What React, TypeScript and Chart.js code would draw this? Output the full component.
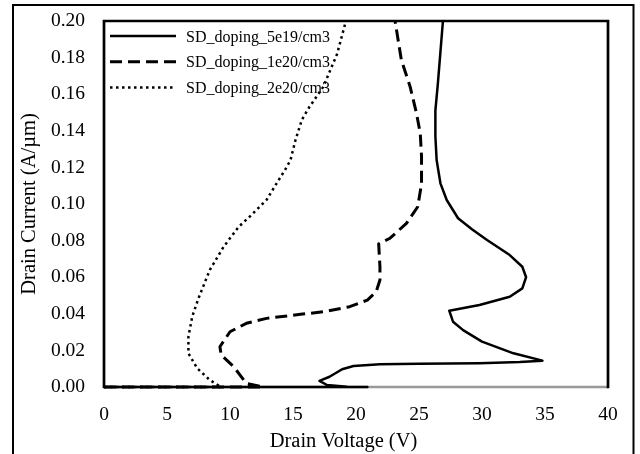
import React, { useEffect, useRef } from "react";
import { Chart, registerables } from "chart.js";

Chart.register(...registerables);

// ---- data ----
const seriesLabels = ["SD_doping_5e19/cm3", "SD_doping_1e20/cm3", "SD_doping_2e20/cm3"];

const volt5e19 = [0, 20.9, 19.3, 17.7, 17.1, 17.9, 18.9, 19.8, 21.9, 25.0, 29.8, 33.0, 34.8, 32.5, 30.0, 28.5, 27.7, 27.4, 29.8, 32.2, 33.2, 33.5, 33.2, 32.2, 30.4, 29.2, 28.1, 27.2, 26.7, 26.4, 26.3, 26.3, 26.5, 26.7, 26.9];
const curr5e19 = [0, 0, 0.0002, 0.0011, 0.0033, 0.0056, 0.0097, 0.0115, 0.0124, 0.0127, 0.013, 0.0136, 0.0144, 0.0184, 0.0248, 0.0311, 0.0357, 0.0417, 0.0448, 0.0493, 0.0539, 0.06, 0.0657, 0.0721, 0.0803, 0.0862, 0.0922, 0.1022, 0.1113, 0.124, 0.137, 0.151, 0.166, 0.183, 0.2];

const volt1e20 = [0, 12.6, 11.3, 10.3, 9.3, 9.2, 10.0, 11.3, 12.9, 15.6, 17.5, 19.5, 20.9, 21.6, 21.9, 21.9, 21.8, 22.7, 24.0, 24.9, 25.2, 25.2, 25.1, 24.8, 24.3, 23.6, 23.1];
const curr1e20 = [0, 0, 0.002, 0.011, 0.0175, 0.022, 0.0302, 0.0348, 0.0375, 0.0397, 0.0412, 0.0439, 0.0475, 0.052, 0.0585, 0.0657, 0.0782, 0.0813, 0.0894, 0.0985, 0.111, 0.126, 0.1386, 0.1496, 0.164, 0.1787, 0.2];

const volt2e20 = [0, 9.3, 8.4, 7.4, 6.7, 6.7, 7.0, 7.5, 8.4, 9.5, 10.7, 11.7, 12.9, 13.7, 14.4, 14.8, 15.2, 15.7, 16.3, 17.4, 18.5, 19.2];
const curr2e20 = [0, 0, 0.0038, 0.0102, 0.0184, 0.0275, 0.0384, 0.0485, 0.064, 0.0767, 0.0876, 0.094, 0.1022, 0.1113, 0.119, 0.124, 0.135, 0.146, 0.153, 0.164, 0.182, 0.2];

const xTickValues = [0, 5, 10, 15, 20, 25, 30, 35, 40];
const xTickLabels = ["0", "5", "10", "15", "20", "25", "30", "35", "40"];
const yTickValues = [0, 0.02, 0.04, 0.06, 0.08, 0.1, 0.12, 0.14, 0.16, 0.18, 0.2];
const yTickLabels = ["0.00", "0.02", "0.04", "0.06", "0.08", "0.10", "0.12", "0.14", "0.16", "0.18", "0.20"];

const xTitle = "Drain Voltage (V)";
const yTitle = "Drain Current (A/µm)";

const SERIF = "'Liberation Serif', 'Times New Roman', serif";

const toPoints = (xs: number[], ys: number[]) => xs.map((x, i) => ({ x, y: ys[i] }));

const framePlugin = {
  id: "frame",
  beforeDraw(chart: any) {
    const { ctx, width, height } = chart;
    ctx.save();
    ctx.fillStyle = "#fff";
    ctx.fillRect(0, 0, width, height);
    ctx.strokeStyle = "#000";
    ctx.lineWidth = 2;
    ctx.strokeRect(13, 5, 620.5, height + 10);
    ctx.restore();
  },
  beforeDatasetsDraw(chart: any) {
    const { ctx, chartArea: a } = chart;
    ctx.save();
    ctx.lineWidth = 2.7;
    ctx.strokeStyle = "#999";
    ctx.beginPath();
    ctx.moveTo(a.left, a.bottom);
    ctx.lineTo(a.right, a.bottom);
    ctx.stroke();
    ctx.strokeStyle = "#000";
    ctx.beginPath();
    ctx.moveTo(a.left, a.bottom + 1.3);
    ctx.lineTo(a.left, a.top);
    ctx.lineTo(a.right, a.top);
    ctx.lineTo(a.right, a.bottom + 1.3);
    ctx.stroke();
    ctx.restore();
  },
  afterDraw(chart: any) {
    const { ctx, chartArea: a } = chart;
    ctx.save();
    // x axis title
    ctx.fillStyle = "#000";
    ctx.font = `20.5px ${SERIF}`;
    ctx.textAlign = "center";
    ctx.textBaseline = "alphabetic";
    ctx.fillText(xTitle, 343.5, 447);
    // legend inside the plot area
    const ds = chart.data.datasets;
    ctx.font = `16px ${SERIF}`;
    ctx.textAlign = "left";
    ds.forEach((d: any, i: number) => {
      const y = 36 + i * 25.7;
      ctx.strokeStyle = d.borderColor;
      ctx.lineWidth = d.borderWidth;
      ctx.setLineDash(d.borderDash || []);
      ctx.beginPath();
      ctx.moveTo(a.left + 6, y);
      ctx.lineTo(a.left + 72, y);
      ctx.stroke();
      ctx.setLineDash([]);
      ctx.fillText(d.label, a.left + 82, y + 5.7);
    });
    ctx.restore();
  },
};

export default function App() {
  const ref = useRef<HTMLCanvasElement>(null);
  useEffect(() => {
    document.body.style.margin = "0";
    const common = {
      showLine: true,
      pointRadius: 0,
      pointHoverRadius: 0,
      borderColor: "#000",
      backgroundColor: "#000",
      fill: false,
      tension: 0,
      clip: false as any,
      borderCapStyle: "butt" as const,
      borderJoinStyle: "round" as const,
    };
    const chart = new Chart(ref.current as HTMLCanvasElement, {
      type: "scatter",
      data: {
        datasets: [
          { ...common, label: seriesLabels[0], data: toPoints(volt5e19, curr5e19), borderWidth: 2.5, borderDash: [] },
          { ...common, label: seriesLabels[1], data: toPoints(volt1e20, curr1e20), borderWidth: 3, borderDash: [12, 6] },
          { ...common, label: seriesLabels[2], data: toPoints(volt2e20, curr2e20), borderWidth: 2.5, borderDash: [2.5, 3.5] },
        ],
      },
      options: {
        responsive: false,
        animation: false,
        devicePixelRatio: 1,
        layout: { padding: { left: 0, top: 21, right: 32, bottom: 0 } },
        plugins: { legend: { display: false }, tooltip: { enabled: false } },
        scales: {
          x: {
            type: "linear",
            min: 0,
            max: 40,
            afterBuildTicks: (s: any) => {
              s.ticks = xTickValues.map((v) => ({ value: v }));
            },
            afterFit: (s: any) => {
              s.height = 67;
              s.paddingLeft = 0;
              s.paddingRight = 0;
            },
            grid: { display: false, drawTicks: false },
            border: { display: false },
            ticks: {
              color: "#000",
              padding: 16,
              maxRotation: 0,
              font: { family: SERIF, size: 19.5 },
              callback: (_v: any, i: number) => xTickLabels[i],
            },
          },
          y: {
            type: "linear",
            min: 0,
            max: 0.2,
            afterBuildTicks: (s: any) => {
              s.ticks = yTickValues.map((v) => ({ value: v }));
            },
            afterFit: (s: any) => {
              s.width = 104;
              s.paddingTop = 0;
              s.paddingBottom = 0;
            },
            grid: { display: false, drawTicks: false },
            border: { display: false },
            ticks: {
              color: "#000",
              padding: 19,
              font: { family: SERIF, size: 19.5 },
              callback: (_v: any, i: number) => yTickLabels[i],
            },
            title: {
              display: true,
              text: yTitle,
              color: "#000",
              font: { family: SERIF, size: 20.5 },
              padding: { top: 17.7, bottom: 0 },
            },
          },
        },
      },
      plugins: [framePlugin],
    });
    return () => chart.destroy();
  }, []);
  return <canvas ref={ref} width={640} height={454} style={{ display: "block" }} />;
}
